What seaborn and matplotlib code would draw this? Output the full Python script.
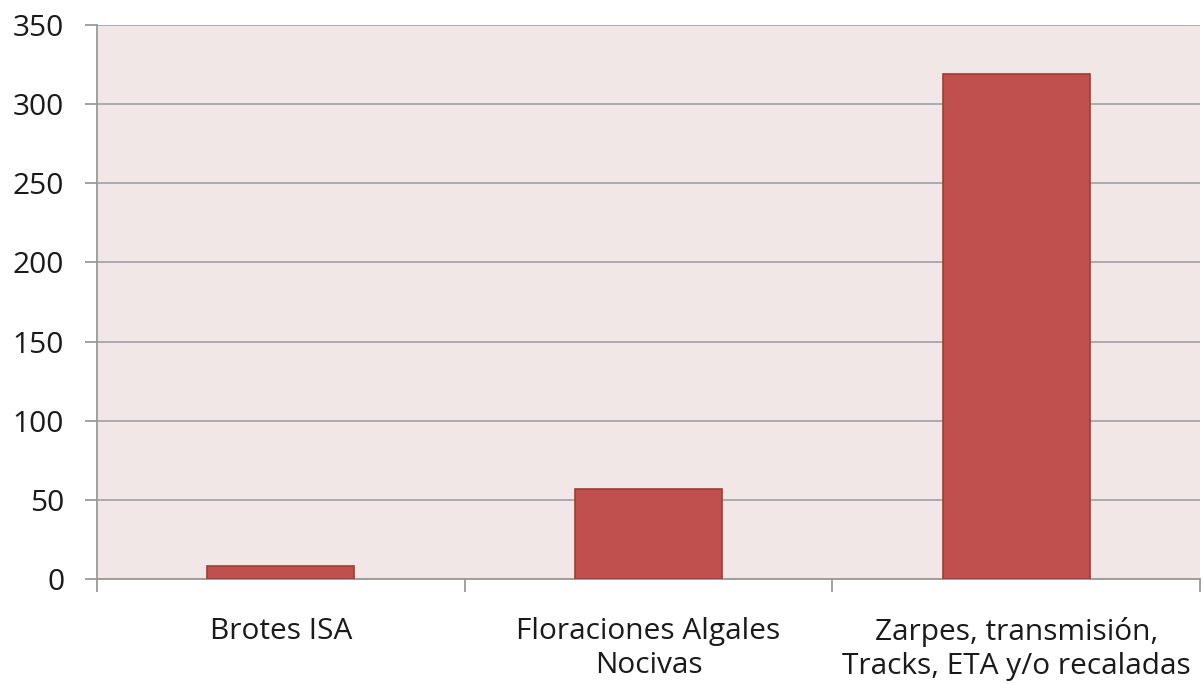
import matplotlib
matplotlib.use("Agg")
import matplotlib.pyplot as plt
import seaborn as sns
import pandas as pd

# ----------------------------------------
# Data
# ----------------------------------------

categories = ["Brotes ISA", "Floraciones Algales\nNocivas", "Zarpes, transmisión,\nTracks, ETA y/o recaladas"]
values = [8, 57, 319]
y_ticks = [0, 50, 100, 150, 200, 250, 300, 350]

df = pd.DataFrame({"Categoria": categories, "Valor": values})

# ----------------------------------------
# Bar chart
# ----------------------------------------

sns.set_style("white")
plt.rcParams["font.family"] = ["Open Sans", "DejaVu Sans"]

fig = plt.figure(figsize=(12.03, 6.84), dpi=100)
ax = fig.add_axes([0.0806, 0.1535, 0.917, 0.81])
ax.set_facecolor("#F2E7E7")

sns.barplot(data=df, x="Categoria", y="Valor", color="#C0504D", saturation=1,
            width=0.4, edgecolor="#9A3E3B", linewidth=1.2, ax=ax, zorder=3)

ax.set_ylim(0, 350)
ax.set_xlim(-0.5, 2.5)
ax.set_yticks(y_ticks)
ax.yaxis.grid(True, color="#A6A6A6", linewidth=1.3, zorder=0)
ax.set_axisbelow(True)

for side in ["top", "right"]:
    ax.spines[side].set_visible(False)
for side in ["left", "bottom"]:
    ax.spines[side].set_color("#9A9A9A")
    ax.spines[side].set_linewidth(1.3)

ax.tick_params(axis="y", which="major", length=8.6, width=1.3, color="#9A9A9A",
               labelsize=21.5, labelcolor="#1A1A1A", pad=15, direction="out", left=True)
ax.tick_params(axis="x", which="major", length=0, labelsize=21.5, labelcolor="#1A1A1A", pad=27)
ax.set_xticks([-0.5, 0.5, 1.5, 2.5], minor=True)
ax.tick_params(axis="x", which="minor", length=9, width=1.3, color="#9A9A9A",
               direction="out", bottom=True)
for lbl in ax.get_xticklabels():
    lbl.set_linespacing(1.26)

ax.set_xlabel("")
ax.set_ylabel("")

fig.savefig("out.png", dpi=100, facecolor="white")
